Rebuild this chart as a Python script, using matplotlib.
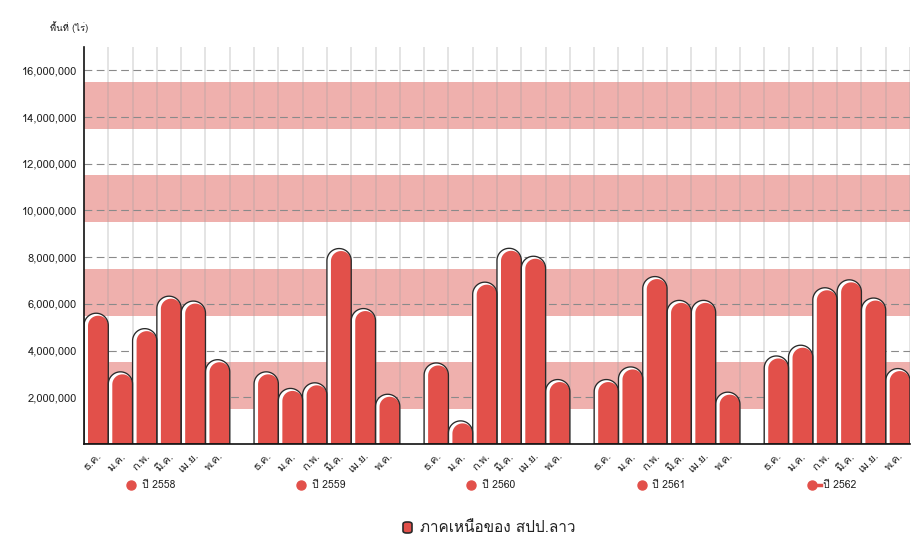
import numpy as np
import matplotlib
matplotlib.use("Agg")
import matplotlib.pyplot as plt
from matplotlib import font_manager, ft2font
from matplotlib.patches import Polygon
from matplotlib.transforms import blended_transform_factory, ScaledTranslation

# data
months = ["ธ.ค.", "ม.ค.", "ก.พ.", "มี.ค.", "เม.ย.", "พ.ค."]
years = ["ปี 2558", "ปี 2559", "ปี 2560", "ปี 2561", "ปี 2562"]
area_2558 = [5.60e6, 3.09e6, 4.94e6, 6.33e6, 6.12e6, 3.61e6]
area_2559 = [3.09e6, 2.38e6, 2.62e6, 8.37e6, 5.80e6, 2.13e6]
area_2560 = [3.47e6, 0.99e6, 6.93e6, 8.38e6, 8.04e6, 2.76e6]
area_2561 = [2.76e6, 3.30e6, 7.17e6, 6.15e6, 6.15e6, 2.22e6]
area_2562 = [3.77e6, 4.23e6, 6.69e6, 7.03e6, 6.25e6, 3.23e6]
series = [area_2558, area_2559, area_2560, area_2561, area_2562]
series_name = "ภาคเหนือของ สปป.ลาว"
y_label = "พื้นที่ (ไร่)"
bands = [(1.5e6, 3.5e6), (5.5e6, 7.5e6), (9.5e6, 11.5e6), (13.5e6, 15.5e6)]

# font with thai glyphs if there is one
thai = None
for f in font_manager.fontManager.ttflist:
    try:
        cm = ft2font.FT2Font(f.fname).get_charmap()
    except Exception:
        continue
    if 0x0E01 in cm:
        thai = f.name
        break
fams = ["DejaVu Sans"]
if thai:
    fams = [thai, "DejaVu Sans"]
plt.rcParams["font.family"] = fams

red = "#e2504a"
dark = "#2a2a2a"

fig = plt.figure(figsize=(9.21, 5.40), dpi=100)
ax = fig.add_axes([84 / 921, 96 / 540, 826 / 921, 397 / 540])
ax.set_xlim(0, 34)
ax.set_ylim(0, 17e6)

for lo, hi in bands:
    ax.axhspan(lo, hi, color="#efb0ad", lw=0, zorder=0)
for x in range(1, 35):
    ax.axvline(x, color="#a0a0a0", alpha=0.3, lw=1.3, zorder=1)
for y in np.arange(2e6, 16.1e6, 2e6):
    ax.axhline(y, color="#8a8a8a", lw=0.8, ls=(0, (7, 4)), zorder=1)

# bar shape with round top, cap height in data units from pixel size
px_x = 1 / (826 / 34)
px_y = 17e6 / 397
w = 1.0
t = np.linspace(np.pi, 0, 30)

def bar_shape(x0, x1, v, dy=0.0):
    ry = (x1 - x0) / 2 / px_x * px_y
    cx = (x0 + x1) / 2
    top = v - dy
    pts = [(x0, 0), (x0, top - ry)]
    pts += [(cx + (x1 - x0) / 2 * np.cos(a), top - ry + ry * np.sin(a)) for a in t]
    pts += [(x1, top - ry), (x1, 0)]
    return pts

centers = []
for g, vals in enumerate(series):
    for m, v in enumerate(vals):
        x0 = g * 7 + m
        centers.append(x0 + 0.5)
        ax.add_patch(Polygon(bar_shape(x0, x0 + w, v), closed=True, fc="white",
                             ec="none", zorder=3))
        ax.add_patch(Polygon(bar_shape(x0 + 4 * px_x, x0 + w, v, 2.5 * px_y), closed=True,
                             fc=red, ec="none", zorder=4))
        ax.add_patch(Polygon(bar_shape(x0, x0 + w, v), closed=True, fc="none",
                             ec=dark, lw=0.95, zorder=5))

ax.set_yticks(np.arange(2e6, 16.1e6, 2e6))
ax.set_yticklabels([f"{int(v):,}" for v in np.arange(2e6, 16.1e6, 2e6)], fontsize=8, color="#222222")
ax.set_xticks(centers)
ax.set_xticklabels(months * 5, rotation=45, ha="right", rotation_mode="anchor",
                   fontsize=8, color="#222222")
off = ScaledTranslation(7 / 100, 0, fig.dpi_scale_trans)
for lab in ax.get_xticklabels():
    lab.set_transform(lab.get_transform() + off)
ax.tick_params(axis="both", length=0, pad=5)
ax.tick_params(axis="x", pad=5)

for s in ["top", "right"]:
    ax.spines[s].set_visible(False)
for s in ["left", "bottom"]:
    ax.spines[s].set_color("#111111")
    ax.spines[s].set_linewidth(1.2)
    ax.spines[s].set_zorder(6)

# year labels under each group
tr = blended_transform_factory(ax.transData, ax.transAxes)
for g, yr in enumerate(years):
    cx = g * 7 + 3
    mx = cx - 1.05
    if g == 4:
        ax.plot([mx, mx + 0.4], [-0.103, -0.103], color=red, lw=2.5, transform=tr, clip_on=False)
    ax.plot([mx], [-0.103], marker="o", ms=6.5, color=red, transform=tr, clip_on=False)
    ax.text(mx + 0.45, -0.103, yr, transform=tr, fontsize=7.5, va="center", ha="left",
            color="#222222")

# legend
fig.patches.append(matplotlib.patches.FancyBboxPatch((403 / 921, 7 / 540), 9 / 921, 11 / 540,
                   boxstyle="round,pad=0,rounding_size=0.004", transform=fig.transFigure,
                   fc=red, ec=dark, lw=1.2))
fig.text(420 / 921, 12.5 / 540, series_name, fontsize=11, va="center", ha="left", color="#222222")
fig.text(50 / 921, 513 / 540, y_label, fontsize=6.8, va="center", ha="left", color="#222222")

fig.savefig("out.png", dpi=100)
